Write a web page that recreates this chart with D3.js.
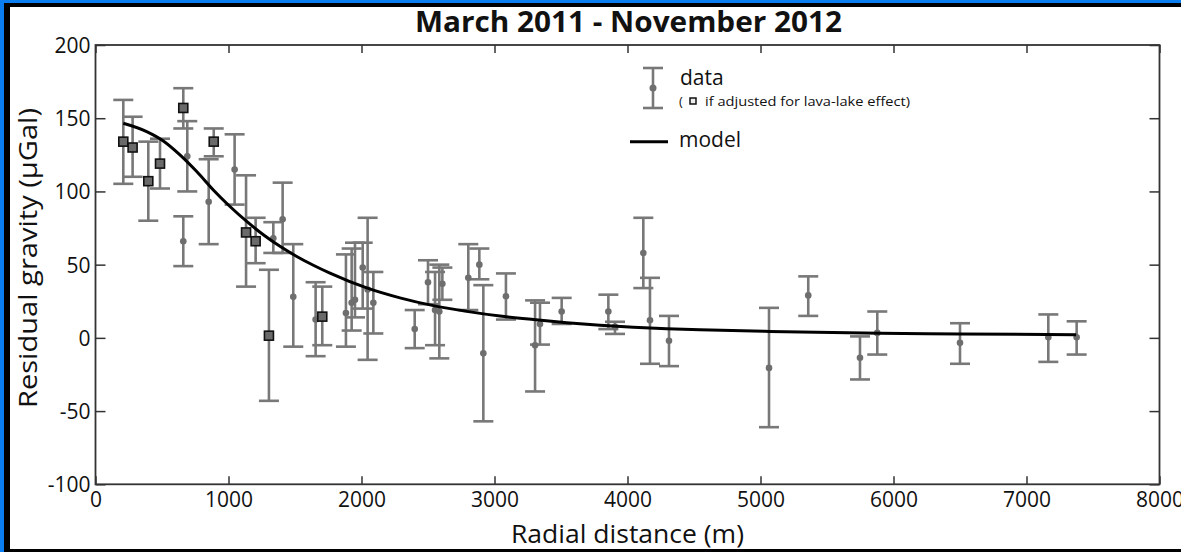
<!DOCTYPE html>
<html>
<head>
<meta charset="utf-8">
<script src="https://cdn.jsdelivr.net/npm/d3@7"></script>
<style>
  html, body { margin: 0; padding: 0; background: #000; }
  svg { display: block; }
  text { font-family: "Open Sans", "Noto Sans", sans-serif; fill: #111; }
</style>
</head>
<body>
<svg id="chart"></svg>
<script>
// measurements (radial distance in m, residual gravity in µGal)
const distance = [209, 279, 397, 485, 660, 660, 690, 851, 889, 1046, 1132, 1204, 1304, 1337, 1407, 1487,
  1655, 1705, 1883, 1926, 1951, 2009, 2046, 2089, 2400, 2500, 2553, 2585, 2608, 2803, 2886, 2916,
  3086, 3305, 3342, 3505, 3856, 3906, 4119, 4169, 4312, 5064, 5359, 5748, 5878, 6500, 7164, 7377]
const gravity = [134, 130, 107, 119, 157, 66, 124, 93, 134, 115, 72, 66, 1.5, 68, 81, 28,
  12.5, 14.5, 17, 24, 26, 48, 33, 24, 6, 38, 19, 18, 37, 41, 50, -10.5,
  28.4, -5, 9.5, 18, 18, 7.5, 58, 12, -2, -20.5, 29, -13.6, 3.4, -3.4, 0.4, 0.4]
const upper = [162.5, 151, 134, 136, 170.5, 83, 148, 122, 143, 139, 111, 82, 46.5, 79, 106, 64,
  38, 35, 57, 61, 65, 65, 82, 45, 19, 53, 45, 50, 48, 64, 61, 36,
  44, 25.6, 24, 27.3, 29.5, 11, 82, 41, 15, 20.5, 42, 1, 18, 10, 16, 11.3]
const lower = [105.2, 110, 80, 102, 143, 49, 100, 64, 124, 91, 35, 51, -43, 58, 58, -6,
  -12.5, -5, -6, 5, 14, 20, -15, 3, -7, 23, -5, -14, 26, 19, 40, -57,
  12.5, -36.6, -4.6, 9.5, 6, 2.7, 34, -17.7, -19.3, -61, 15, -28.4, -11.4, -17.7, -16.4, -11.4]
// 1 = adjusted for lava-lake effect (square marker)
const adjusted = [1, 1, 1, 1, 1, 0, 0, 0, 1, 0, 1, 1, 1, 0, 0, 0,
  0, 1, 0, 0, 0, 0, 0, 0, 0, 0, 0, 0, 0, 0, 0, 0,
  0, 0, 0, 0, 0, 0, 0, 0, 0, 0, 0, 0, 0, 0, 0, 0]

// model curve
const modelDist = [209, 385, 510, 635, 761, 886, 1011, 1137, 1262, 1387, 1513, 1638, 1763, 2039, 2289,
  2540, 2791, 3041, 3292, 3543, 3793, 4044, 4295, 4545, 5064, 5898, 6500, 7373]
const modelVal = [146.6, 140.9, 134.5, 125, 113.6, 101, 89.7, 79.5, 70.4, 62.5, 55.6, 49.6, 44.2, 34.1, 27.3,
  22, 18.1, 14.9, 12.5, 10.4, 8.6, 7.2, 6.2, 5.5, 4.4, 3.1, 2.7, 2.2]

const xTicks = [0, 1000, 2000, 3000, 4000, 5000, 6000, 7000, 8000]
const yTicks = [-100, -50, 0, 50, 100, 150, 200]

const width = 1181
const height = 552
const barColor = '#787878'

const svg = d3.select('#chart').attr('width', width).attr('height', height)

// frame
svg.append('rect').attr('width', width).attr('height', height).attr('fill', '#000')
svg.append('rect').attr('width', width).attr('height', 3).attr('fill', '#0b7ef2')
svg.append('rect').attr('width', 4).attr('height', height).attr('fill', '#0b7ef2')
svg.append('rect').attr('x', 10).attr('y', 7).attr('width', width - 10).attr('height', 542).attr('fill', '#fff')

const x = d3.scaleLinear().domain([0, 8000]).range([95.5, 1159.5])
const y = d3.scaleLinear().domain([-100, 200]).range([484.3, 45])

// axes (ticks point inward), plain hyphen for negatives
const fmt = d => String(d)
svg.append('g').attr('transform', `translate(0,${y(-100)})`)
  .call(d3.axisBottom(x).tickValues(xTicks).tickFormat(fmt)
    .tickSizeInner(-8).tickSizeOuter(0).tickPadding(8))
svg.append('g').attr('transform', `translate(0,${y(200)})`)
  .call(d3.axisTop(x).tickValues(xTicks).tickFormat('').tickSizeInner(-8).tickSizeOuter(0))
const gy = svg.append('g').attr('transform', `translate(${x(0)},0)`)
  .call(d3.axisLeft(y).tickValues(yTicks).tickFormat(fmt).tickSizeInner(-10).tickSizeOuter(0).tickPadding(5))
svg.append('g').attr('transform', `translate(${x(8000)},0)`)
  .call(d3.axisRight(y).tickValues(yTicks).tickFormat('').tickSizeInner(-10).tickSizeOuter(0))

svg.selectAll('.domain').remove()
svg.selectAll('.tick line').attr('stroke', '#333').attr('stroke-width', 1.5)
svg.selectAll('.tick text').style('font-size', '21px').attr('fill', '#111')
gy.selectAll('.tick text').attr('dy', '0.36em')

// box
svg.append('rect')
  .attr('x', x(0)).attr('y', y(200))
  .attr('width', x(8000) - x(0)).attr('height', y(-100) - y(200))
  .attr('fill', 'none').attr('stroke', '#333').attr('stroke-width', 1.8)

const pts = distance.map((d, i) => ({ d, v: gravity[i], hi: upper[i], lo: lower[i], adj: adjusted[i] }))

// error bars
const bars = svg.append('g').attr('stroke', barColor).attr('stroke-width', 2.6).attr('fill', 'none')
pts.forEach((p) => {
  const cx = x(p.d)
  bars.append('line').attr('x1', cx).attr('x2', cx).attr('y1', y(p.hi)).attr('y2', y(p.lo))
  bars.append('line').attr('x1', cx - 10).attr('x2', cx + 10).attr('y1', y(p.hi)).attr('y2', y(p.hi))
  bars.append('line').attr('x1', cx - 10).attr('x2', cx + 10).attr('y1', y(p.lo)).attr('y2', y(p.lo))
})

svg.append('g').selectAll('circle')
  .data(pts.filter(p => !p.adj))
  .enter()
  .append('circle')
  .attr('cx', p => x(p.d))
  .attr('cy', p => y(p.v))
  .attr('r', 3.3)
  .attr('fill', '#6e6e6e')

// model
const line = d3.line().x(d => x(d[0])).y(d => y(d[1])).curve(d3.curveMonotoneX)
svg.append('path')
  .datum(modelDist.map((d, i) => [d, modelVal[i]]))
  .attr('d', line)
  .attr('fill', 'none')
  .attr('stroke', '#000')
  .attr('stroke-width', 3)

// squares for lava-lake adjusted values
svg.append('g').selectAll('rect')
  .data(pts.filter(p => p.adj))
  .enter()
  .append('rect')
  .attr('x', p => x(p.d) - 4.5)
  .attr('y', p => y(p.v) - 4.5)
  .attr('width', 9)
  .attr('height', 9)
  .attr('fill', '#6a6a6a')
  .attr('stroke', '#111')
  .attr('stroke-width', 1.6)

// legend
const lg = svg.append('g')
lg.append('line').attr('x1', 653).attr('x2', 653).attr('y1', 68).attr('y2', 108)
  .attr('stroke', barColor).attr('stroke-width', 2.6)
lg.append('line').attr('x1', 643).attr('x2', 663).attr('y1', 68).attr('y2', 68)
  .attr('stroke', barColor).attr('stroke-width', 2.6)
lg.append('line').attr('x1', 643).attr('x2', 663).attr('y1', 108).attr('y2', 108)
  .attr('stroke', barColor).attr('stroke-width', 2.6)
lg.append('circle').attr('cx', 653).attr('cy', 88).attr('r', 3.5).attr('fill', '#6e6e6e')
lg.append('text').attr('x', 680).attr('y', 85).style('font-size', '21px').text('data')
lg.append('text').attr('x', 679).attr('y', 106).style('font-size', '13px').text('(')
lg.append('rect').attr('x', 690).attr('y', 98).attr('width', 6).attr('height', 6)
  .attr('fill', '#eee').attr('stroke', '#111').attr('stroke-width', 1.5)
lg.append('text').attr('x', 705).attr('y', 106).style('font-size', '13px')
  .attr('textLength', 205).attr('lengthAdjust', 'spacingAndGlyphs')
  .text('if adjusted for lava-lake effect)')
lg.append('line').attr('x1', 630).attr('x2', 668).attr('y1', 141.7).attr('y2', 141.7)
  .attr('stroke', '#000').attr('stroke-width', 3)
lg.append('text').attr('x', 679).attr('y', 147).style('font-size', '21px').text('model')

// titles
svg.append('text')
  .attr('x', 628.5).attr('y', 31.7)
  .attr('text-anchor', 'middle')
  .style('font-size', '29px').style('font-weight', 'bold')
  .attr('textLength', 427).attr('lengthAdjust', 'spacingAndGlyphs')
  .text('March 2011 - November 2012')

svg.append('text')
  .attr('x', 627.5).attr('y', 543)
  .attr('text-anchor', 'middle')
  .style('font-size', '25px')
  .attr('textLength', 233).attr('lengthAdjust', 'spacingAndGlyphs')
  .text('Radial distance (m)')

svg.append('text')
  .attr('transform', 'translate(37,258) rotate(-90)')
  .attr('text-anchor', 'middle')
  .style('font-size', '25px')
  .attr('textLength', 300).attr('lengthAdjust', 'spacingAndGlyphs')
  .text('Residual gravity  (µGal)')
</script>
</body>
</html>
